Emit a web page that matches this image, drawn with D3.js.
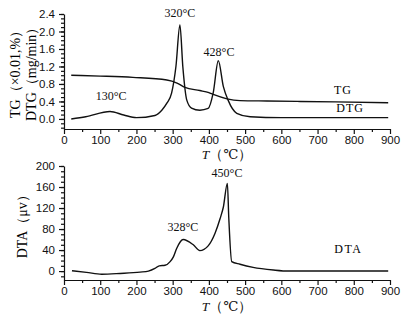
<!DOCTYPE html>
<html><head><meta charset="utf-8">
<script src="https://cdn.jsdelivr.net/npm/d3@7"></script>
<style>
body{margin:0;background:#fff;}
svg{display:block;font-family:"Liberation Serif","DejaVu Serif",serif;}
.tick text{font-size:11.5px;fill:#111;}
.domain,.tick line{stroke:#111;stroke-width:1.2;}
</style></head><body>
<script>
// ----- data -----
const xTicks = [0,100,200,300,400,500,600,700,800,900];
const topYTicks = [0.0,0.4,0.8,1.2,1.6,2.0,2.4];
const botYTicks = [0,40,80,120,160,200];

const tgT =   [20, 100, 190, 284, 312, 334, 375, 400, 412, 450, 486, 560, 652, 750, 895];
const tgV =   [1.0, 0.98, 0.95, 0.89, 0.82, 0.72, 0.65, 0.60, 0.56, 0.46, 0.42, 0.41, 0.40, 0.39, 0.37];

const dtgT =  [20, 60, 127, 165, 200, 251, 270, 284, 297, 309, 320, 328, 339, 352, 375, 398, 412, 426, 440, 453, 477, 514, 600, 700, 800, 895];
const dtgV =  [0.0, 0.05, 0.17, 0.09, 0.03, 0.08, 0.2, 0.36, 0.59, 1.2, 2.15, 1.2, 0.43, 0.25, 0.2, 0.24, 0.6, 1.33, 0.74, 0.43, 0.13, 0.05, 0.03, 0.03, 0.03, 0.03];

const dtaT =  [22, 62, 104, 155, 210, 233, 251, 263, 279, 293, 302, 311, 329, 357, 375, 398, 417, 431, 440, 451, 455, 463, 486, 522, 578, 620, 700, 800, 895];
const dtaV =  [0.5, -2.5, -6, -4.5, -2, 0, 5, 10, 11, 18, 27, 43, 60, 50, 39, 48, 72, 100, 122, 167, 100, 18, 13, 7, 2, 0, 0, 0, 0];

const peakTop = [{t:130, label:"130°C", dy:-12}, {t:320, label:"320°C", dy:-8}, {t:428, label:"428°C", dy:-8}];
const peakBot = [{t:328, label:"328°C", dy:-9}, {t:450, label:"450°C", dy:-8}];

// ----- drawing -----
const W = 403, H = 329;
const svg = d3.select("body").append("svg").attr("width", W).attr("height", H);

const x = d3.scaleLinear().domain([0, 900]).range([64, 390]);
const yTop = d3.scaleLinear().domain([-0.23, 2.4]).range([129, 14]);
const yBot = d3.scaleLinear().domain([-17, 200]).range([280, 166]);

function drawAxes(y, yTicks, yMinor, fmt, xAxisY) {
  svg.append("g").attr("transform", `translate(0,${xAxisY})`)
    .call(d3.axisBottom(x).tickValues(d3.range(50, 900, 100)).tickSize(3).tickFormat(""))
    .call(g => g.select(".domain").remove());
  svg.append("g").attr("transform", `translate(0,${xAxisY})`)
    .call(d3.axisBottom(x).tickValues(xTicks).tickSizeInner(5).tickSizeOuter(0).tickPadding(2));
  svg.append("g").attr("transform", `translate(${x(0)},0)`)
    .call(d3.axisLeft(y).tickValues(yMinor).tickSize(3).tickFormat(""))
    .call(g => g.select(".domain").remove());
  svg.append("g").attr("transform", `translate(${x(0)},0)`)
    .call(d3.axisLeft(y).tickValues(yTicks).tickSizeInner(5).tickSizeOuter(0).tickPadding(4).tickFormat(fmt));
}

drawAxes(yTop, topYTicks, d3.range(-0.2, 2.41, 0.1).map(v => +v.toFixed(2)), d3.format(".1f"), yTop(-0.23));
drawAxes(yBot, botYTicks, d3.range(-10, 201, 10), d3.format("d"), yBot(-17));

const line = (y) => d3.line().x(d => x(d[0])).y(d => y(d[1])).curve(d3.curveMonotoneX);
const pathStyle = p => p.attr("fill", "none").attr("stroke", "#111").attr("stroke-width", 1.4).attr("stroke-linejoin", "round");

svg.append("path").datum(d3.zip(tgT, tgV)).attr("d", line(yTop)).call(pathStyle);
svg.append("path").datum(d3.zip(dtgT, dtgV)).attr("d", line(yTop)).call(pathStyle);
svg.append("path").datum(d3.zip(dtaT, dtaV)).attr("d", line(yBot)).call(pathStyle);

const interp = (ts, vs, t) => { for (let i = 1; i < ts.length; i++) if (t <= ts[i]) { const f = (t - ts[i-1])/(ts[i]-ts[i-1]); return vs[i-1] + f*(vs[i]-vs[i-1]); } return vs[vs.length-1]; };

svg.selectAll(".pt").data(peakTop).enter().append("text")
  .attr("x", d => x(d.t)).attr("y", d => yTop(interp(dtgT, dtgV, d.t)) + d.dy)
  .attr("text-anchor", "middle").attr("font-size", 12).attr("fill", "#111").text(d => d.label);
svg.selectAll(".pb").data(peakBot).enter().append("text")
  .attr("x", d => x(d.t)).attr("y", d => yBot(interp(dtaT, dtaV, d.t)) + d.dy)
  .attr("text-anchor", "middle").attr("font-size", 12).attr("fill", "#111").text(d => d.label);

// curve labels
svg.append("text").attr("x", x(770)).attr("y", yTop(0.57)).attr("font-size", 12).attr("text-anchor","middle").attr("letter-spacing", 1).text("TG");
svg.append("text").attr("x", x(790)).attr("y", yTop(0.16)).attr("font-size", 12).attr("text-anchor","middle").attr("letter-spacing", 1).text("DTG");
svg.append("text").attr("x", x(785)).attr("y", yBot(35)).attr("font-size", 12).attr("text-anchor","middle").attr("letter-spacing", 1.5).text("DTA");

// axis titles
function xTitle(yy) {
  const t = svg.append("text").attr("x", x(450)).attr("y", yy).attr("text-anchor", "middle").attr("font-size", 13.5).attr("fill", "#111");
  t.append("tspan").attr("font-style", "italic").text("T");
  t.append("tspan").text("（℃）");
}
xTitle(159);
xTitle(311);

svg.append("text").attr("transform", `translate(20,${yTop(1.1)}) rotate(-90)`).attr("text-anchor", "middle").attr("font-size", 14).text("TG（×0.01,%）");
svg.append("text").attr("transform", `translate(36,${yTop(1.1)}) rotate(-90)`).attr("text-anchor", "middle").attr("font-size", 14).text("DTG（mg/min）");
svg.append("text").attr("transform", `translate(27,${yBot(91)}) rotate(-90)`).attr("text-anchor", "middle").attr("font-size", 14).text("DTA（μv）");
</script>
</body></html>
